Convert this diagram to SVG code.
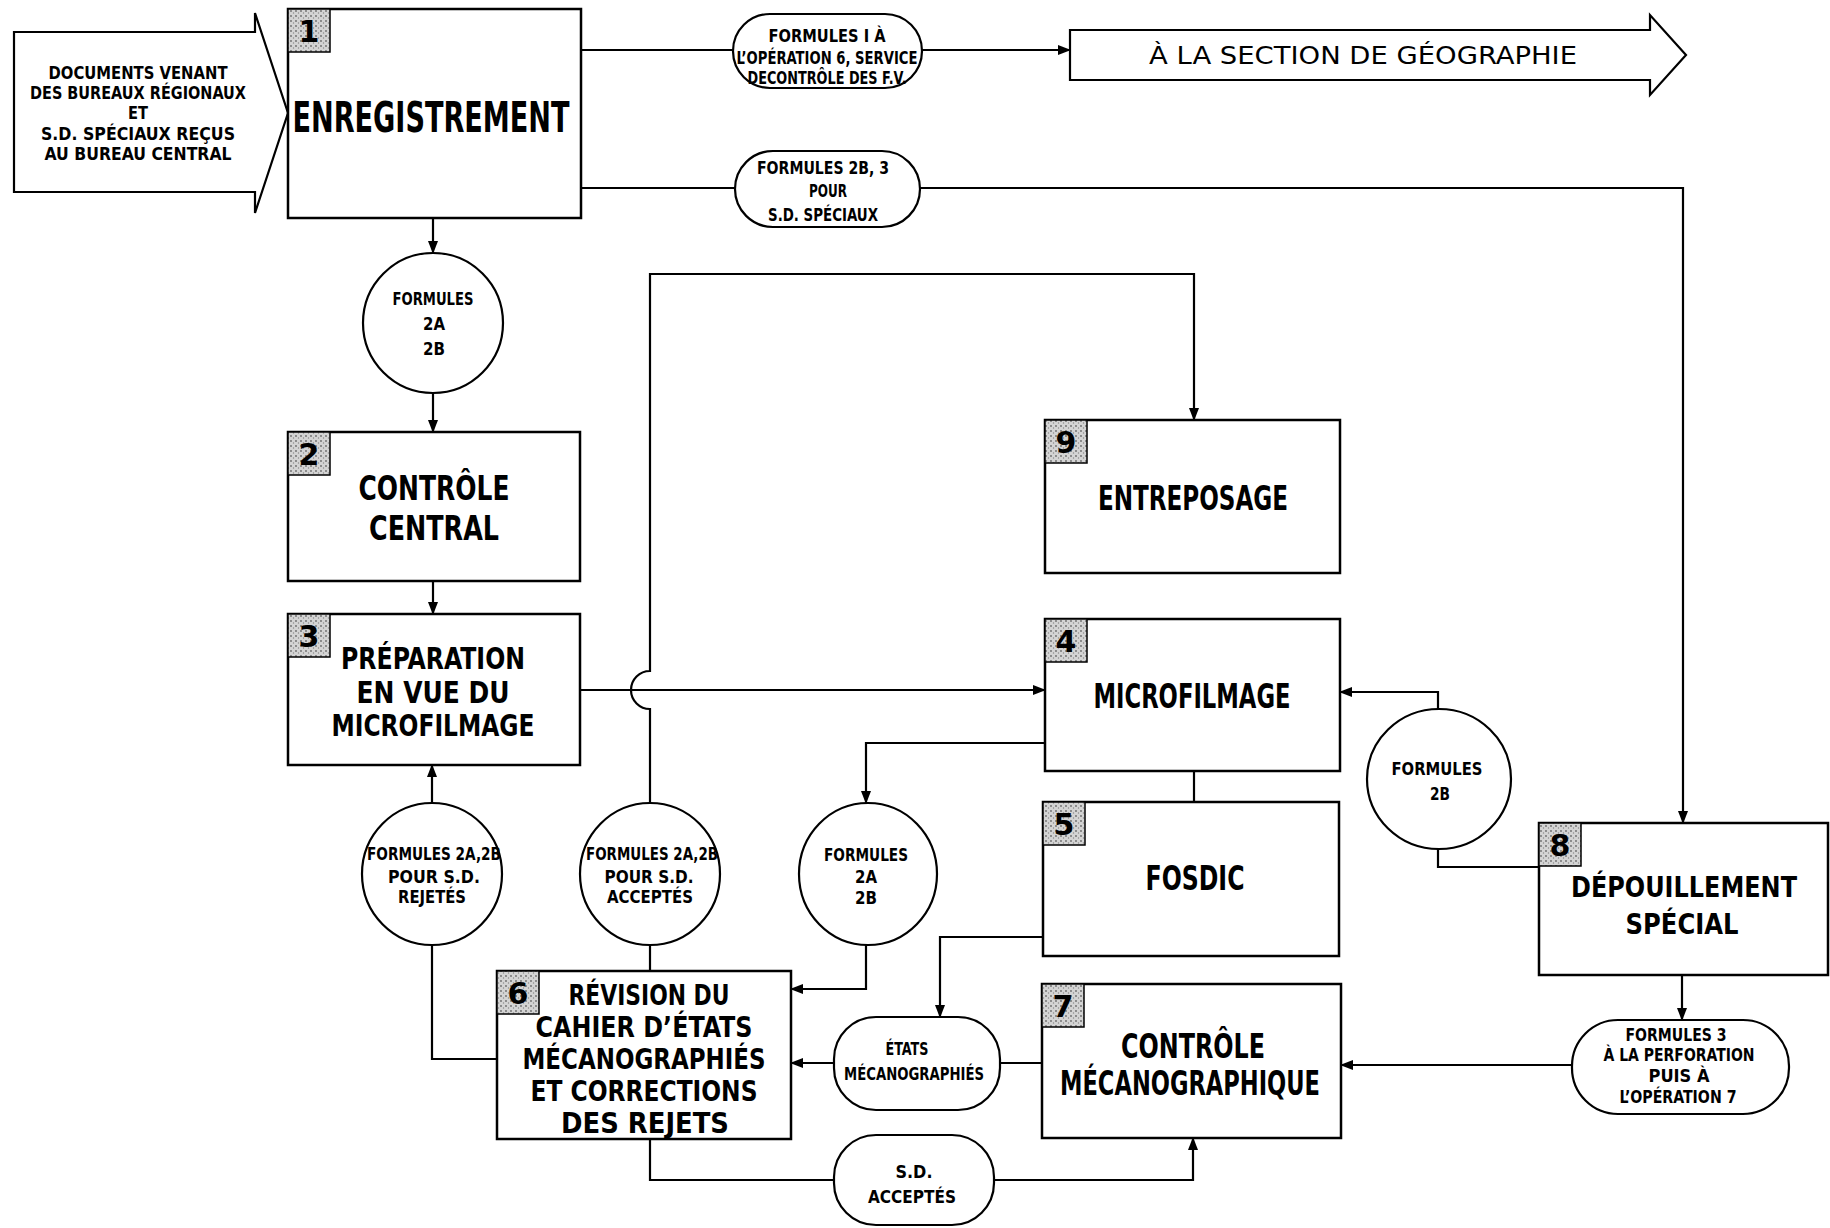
<svg xmlns="http://www.w3.org/2000/svg" width="1830" height="1228" viewBox="0 0 1830 1228">
<defs>
<style>
.t{font-family:"Liberation Sans Narrow","DejaVu Sans Condensed","Liberation Sans",sans-serif;fill:#000;text-anchor:middle}
.big{font-size:33px;font-weight:bold}
.mid{font-size:30px;font-weight:bold}
.sm{font-size:18px;font-weight:bold}
.box{fill:#fff;stroke:#000;stroke-width:2.5}
.shape{fill:#fff;stroke:#000;stroke-width:2.2}
.ln{fill:none;stroke:#000;stroke-width:2.2}
.badge{fill:url(#stip);stroke:#000;stroke-width:1.5}
.num{font-family:"DejaVu Sans","Liberation Sans",sans-serif;font-weight:bold;font-size:30px;fill:#000;text-anchor:middle}
</style>
<pattern id="stip" width="5" height="5" patternUnits="userSpaceOnUse">
<rect width="5" height="5" fill="#d4d4d4"/>
<circle cx="1" cy="1" r="0.9" fill="#6a6a6a"/>
<circle cx="3.5" cy="3" r="0.7" fill="#8a8a8a"/>
</pattern>
<marker id="ar" markerUnits="userSpaceOnUse" markerWidth="13" markerHeight="10" refX="12" refY="5" orient="auto">
<path d="M0,0 L13,5 L0,10 z" fill="#000"/>
</marker>
</defs>
<rect width="1830" height="1228" fill="#fff"/>

<g id="connectors">
<path class="ln" d="M581,50 H733"/>
<path class="ln" d="M922,50 H1070" marker-end="url(#ar)"/>
<path class="ln" d="M581,188 H735"/>
<path class="ln" d="M920,188 H1683 V823" marker-end="url(#ar)"/>
<path class="ln" d="M433,218 V253" marker-end="url(#ar)"/>
<path class="ln" d="M433,393 V432" marker-end="url(#ar)"/>
<path class="ln" d="M433,581 V614" marker-end="url(#ar)"/>
<path class="ln" d="M580,690 H1045" marker-end="url(#ar)"/>
<path class="ln" d="M650,803 V709 A19,19 0 0 1 650,671 V274 H1194 V420" marker-end="url(#ar)"/>
<path class="ln" d="M1194,771 V802"/>
<path class="ln" d="M1045,743 H866 V803" marker-end="url(#ar)"/>
<path class="ln" d="M866,945 V989 H791" marker-end="url(#ar)"/>
<path class="ln" d="M432,803 V765" marker-end="url(#ar)"/>
<path class="ln" d="M432,945 V1059 H497"/>
<path class="ln" d="M650,945 V971"/>
<path class="ln" d="M650,1139 V1180 H834"/>
<path class="ln" d="M994,1180 H1193 V1138" marker-end="url(#ar)"/>
<path class="ln" d="M1043,937 H940 V1017" marker-end="url(#ar)"/>
<path class="ln" d="M834,1063 H791" marker-end="url(#ar)"/>
<path class="ln" d="M1000,1063 H1042"/>
<path class="ln" d="M1539,867 H1438 V849"/>
<path class="ln" d="M1438,709 V692 H1340" marker-end="url(#ar)"/>
<path class="ln" d="M1682,975 V1020" marker-end="url(#ar)"/>
<path class="ln" d="M1572,1065 H1341" marker-end="url(#ar)"/>
</g>

<g id="input">
<polygon class="shape" points="14,32 255,32 255,13 288,113 255,213 255,192 14,192"/>
<text class="t sm" x="138" y="79" textLength="179" lengthAdjust="spacingAndGlyphs">DOCUMENTS VENANT</text>
<text class="t sm" x="138" y="99" textLength="216" lengthAdjust="spacingAndGlyphs">DES BUREAUX RÉGIONAUX</text>
<text class="t sm" x="138" y="119" textLength="20" lengthAdjust="spacingAndGlyphs">ET</text>
<text class="t sm" x="138" y="140" textLength="194" lengthAdjust="spacingAndGlyphs">S.D. SPÉCIAUX REÇUS</text>
<text class="t sm" x="138" y="160" textLength="187" lengthAdjust="spacingAndGlyphs">AU BUREAU CENTRAL</text>
</g>

<g id="n1">
<rect class="box" x="288" y="9" width="293" height="209"/>
<rect class="badge" x="288" y="9" width="42" height="43"/>
<text class="num" x="309" y="42">1</text>
<text class="t" style="font-size:42px;font-weight:bold" x="431" y="132" textLength="277" lengthAdjust="spacingAndGlyphs">ENREGISTREMENT</text>
</g>

<g id="p-formules1">
<rect class="shape" x="733" y="14" width="189" height="74" rx="37"/>
<text class="t sm" style="font-size:17px" x="827" y="42" textLength="117" lengthAdjust="spacingAndGlyphs">FORMULES I À</text>
<text class="t sm" style="font-size:17px" x="827" y="64" textLength="181" lengthAdjust="spacingAndGlyphs">L’OPÉRATION 6, SERVICE</text>
<text class="t sm" style="font-size:17px" x="827" y="84" textLength="159" lengthAdjust="spacingAndGlyphs">DECONTRÔLE DES F.V.</text>
</g>

<g id="geographie">
<polygon class="shape" points="1070,30 1650,30 1650,15 1686,55 1650,95 1650,80 1070,80"/>
<text class="t" style="font-size:24px" x="1363" y="64" textLength="428" lengthAdjust="spacingAndGlyphs">À LA SECTION  DE  GÉOGRAPHIE</text>
</g>

<g id="p-formules2b3">
<rect class="shape" x="735" y="151" width="185" height="76" rx="38"/>
<text class="t sm" style="font-size:17px" x="823" y="174" textLength="132" lengthAdjust="spacingAndGlyphs">FORMULES 2B, 3</text>
<text class="t sm" style="font-size:17px" x="828" y="197" textLength="38" lengthAdjust="spacingAndGlyphs">POUR</text>
<text class="t sm" style="font-size:17px" x="823" y="221" textLength="110" lengthAdjust="spacingAndGlyphs">S.D. SPÉCIAUX</text>
</g>

<g id="c-formules-2a2b">
<ellipse class="shape" cx="433" cy="323" rx="70" ry="70"/>
<text class="t sm" x="433" y="305" textLength="81" lengthAdjust="spacingAndGlyphs">FORMULES</text>
<text class="t sm" x="434" y="330" textLength="22" lengthAdjust="spacingAndGlyphs">2A</text>
<text class="t sm" x="434" y="355" textLength="22" lengthAdjust="spacingAndGlyphs">2B</text>
</g>

<g id="n2">
<rect class="box" x="288" y="432" width="292" height="149"/>
<rect class="badge" x="288" y="432" width="42" height="43"/>
<text class="num" x="309" y="465">2</text>
<text class="t big" x="434" y="500" textLength="151" lengthAdjust="spacingAndGlyphs">CONTRÔLE</text>
<text class="t big" x="434" y="540" textLength="130" lengthAdjust="spacingAndGlyphs">CENTRAL</text>
</g>

<g id="n3">
<rect class="box" x="288" y="614" width="292" height="151"/>
<rect class="badge" x="288" y="614" width="42" height="43"/>
<text class="num" x="309" y="647">3</text>
<text class="t mid" x="433" y="669" textLength="184" lengthAdjust="spacingAndGlyphs">PRÉPARATION</text>
<text class="t mid" x="433" y="703" textLength="153" lengthAdjust="spacingAndGlyphs">EN VUE DU</text>
<text class="t mid" x="433" y="736" textLength="203" lengthAdjust="spacingAndGlyphs">MICROFILMAGE</text>
</g>

<g id="n9">
<rect class="box" x="1045" y="420" width="295" height="153"/>
<rect class="badge" x="1045" y="420" width="42" height="43"/>
<text class="num" x="1066" y="453">9</text>
<text class="t big" x="1193" y="510" textLength="190" lengthAdjust="spacingAndGlyphs">ENTREPOSAGE</text>
</g>

<g id="n4">
<rect class="box" x="1045" y="619" width="295" height="152"/>
<rect class="badge" x="1045" y="619" width="42" height="43"/>
<text class="num" x="1066" y="652">4</text>
<text class="t big" x="1192" y="708" textLength="197" lengthAdjust="spacingAndGlyphs">MICROFILMAGE</text>
</g>

<g id="n5">
<rect class="box" x="1043" y="802" width="296" height="154"/>
<rect class="badge" x="1043" y="802" width="42" height="43"/>
<text class="num" x="1064" y="835">5</text>
<text class="t big" x="1195" y="890" textLength="99" lengthAdjust="spacingAndGlyphs">FOSDIC</text>
</g>

<g id="c-rejetes">
<ellipse class="shape" cx="432" cy="874" rx="70" ry="71"/>
<text class="t sm" x="434" y="860" textLength="134" lengthAdjust="spacingAndGlyphs">FORMULES 2A,2B</text>
<text class="t sm" x="434" y="883" textLength="92" lengthAdjust="spacingAndGlyphs">POUR S.D.</text>
<text class="t sm" x="432" y="903" textLength="68" lengthAdjust="spacingAndGlyphs">REJETÉS</text>
</g>

<g id="c-acceptes">
<ellipse class="shape" cx="650" cy="874" rx="70" ry="71"/>
<text class="t sm" x="652" y="860" textLength="132" lengthAdjust="spacingAndGlyphs">FORMULES 2A,2B</text>
<text class="t sm" x="649" y="883" textLength="89" lengthAdjust="spacingAndGlyphs">POUR S.D.</text>
<text class="t sm" x="650" y="903" textLength="86" lengthAdjust="spacingAndGlyphs">ACCEPTÉS</text>
</g>

<g id="c-formules-2a2b-b">
<ellipse class="shape" cx="868" cy="874" rx="69" ry="71"/>
<text class="t sm" x="866" y="861" textLength="84" lengthAdjust="spacingAndGlyphs">FORMULES</text>
<text class="t sm" x="866" y="883" textLength="22" lengthAdjust="spacingAndGlyphs">2A</text>
<text class="t sm" x="866" y="904" textLength="22" lengthAdjust="spacingAndGlyphs">2B</text>
</g>

<g id="n6">
<rect class="box" x="497" y="971" width="294" height="168"/>
<rect class="badge" x="497" y="971" width="42" height="43"/>
<text class="num" x="518" y="1004">6</text>
<text class="t" style="font-size:29px;font-weight:bold" x="649" y="1005" textLength="161" lengthAdjust="spacingAndGlyphs">RÉVISION DU</text>
<text class="t" style="font-size:29px;font-weight:bold" x="644" y="1037" textLength="217" lengthAdjust="spacingAndGlyphs">CAHIER D’ÉTATS</text>
<text class="t" style="font-size:29px;font-weight:bold" x="644" y="1069" textLength="243" lengthAdjust="spacingAndGlyphs">MÉCANOGRAPHIÉS</text>
<text class="t" style="font-size:29px;font-weight:bold" x="644" y="1101" textLength="227" lengthAdjust="spacingAndGlyphs">ET  CORRECTIONS</text>
<text class="t" style="font-size:29px;font-weight:bold" x="645" y="1133" textLength="168" lengthAdjust="spacingAndGlyphs">DES  REJETS</text>
</g>

<g id="p-etats">
<rect class="shape" x="834" y="1017" width="166" height="93" rx="42"/>
<text class="t sm" x="907" y="1055" textLength="43" lengthAdjust="spacingAndGlyphs">ÉTATS</text>
<text class="t sm" x="914" y="1080" textLength="140" lengthAdjust="spacingAndGlyphs">MÉCANOGRAPHIÉS</text>
</g>

<g id="p-sd-acceptes">
<rect class="shape" x="834" y="1135" width="160" height="90" rx="42"/>
<text class="t sm" x="914" y="1178" textLength="37" lengthAdjust="spacingAndGlyphs">S.D.</text>
<text class="t sm" x="912" y="1203" textLength="88" lengthAdjust="spacingAndGlyphs">ACCEPTÉS</text>
</g>

<g id="n7">
<rect class="box" x="1042" y="984" width="299" height="154"/>
<rect class="badge" x="1042" y="984" width="42" height="43"/>
<text class="num" x="1063" y="1017">7</text>
<text class="t big" x="1193" y="1058" textLength="144" lengthAdjust="spacingAndGlyphs">CONTRÔLE</text>
<text class="t big" x="1190" y="1095" textLength="260" lengthAdjust="spacingAndGlyphs">MÉCANOGRAPHIQUE</text>
</g>

<g id="c-formules-2b">
<ellipse class="shape" cx="1439" cy="779" rx="72" ry="70"/>
<text class="t sm" x="1437" y="775" textLength="91" lengthAdjust="spacingAndGlyphs">FORMULES</text>
<text class="t sm" x="1440" y="800" textLength="20" lengthAdjust="spacingAndGlyphs">2B</text>
</g>

<g id="n8">
<rect class="box" x="1539" y="823" width="289" height="152"/>
<rect class="badge" x="1539" y="823" width="42" height="43"/>
<text class="num" x="1560" y="856">8</text>
<text class="t" style="font-size:29px;font-weight:bold" x="1684" y="897" textLength="226" lengthAdjust="spacingAndGlyphs">DÉPOUILLEMENT</text>
<text class="t" style="font-size:29px;font-weight:bold" x="1682" y="934" textLength="113" lengthAdjust="spacingAndGlyphs">SPÉCIAL</text>
</g>

<g id="p-formules3">
<rect class="shape" x="1572" y="1020" width="217" height="94" rx="46"/>
<text class="t sm" x="1676" y="1041" textLength="101" lengthAdjust="spacingAndGlyphs">FORMULES 3</text>
<text class="t sm" x="1679" y="1061" textLength="151" lengthAdjust="spacingAndGlyphs">À LA PERFORATION</text>
<text class="t sm" x="1679" y="1082" textLength="61" lengthAdjust="spacingAndGlyphs">PUIS À</text>
<text class="t sm" x="1678" y="1103" textLength="117" lengthAdjust="spacingAndGlyphs">L’OPÉRATION 7</text>
</g>
</svg>
